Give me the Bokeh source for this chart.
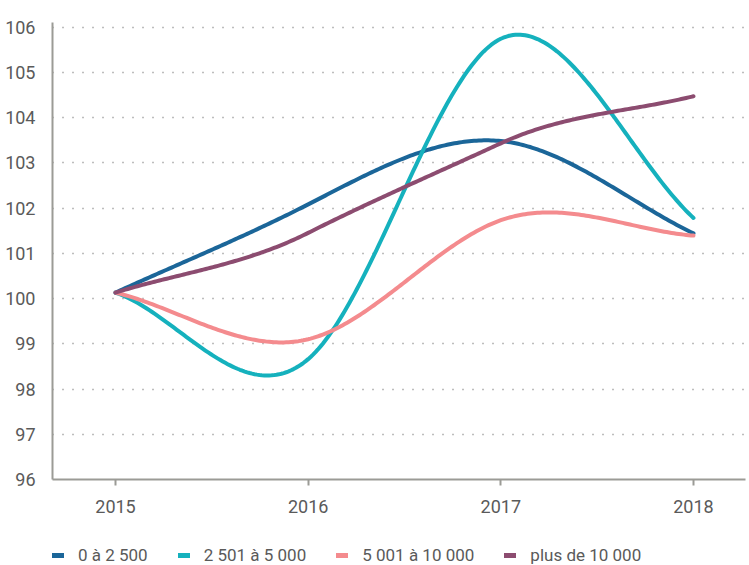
import numpy as np
from bokeh.plotting import figure
from bokeh.layouts import column
from bokeh.models import Range1d, FixedTicker, Legend, LegendItem
from bokeh.embed import file_html
from bokeh.resources import INLINE

years = [2015, 2016, 2017, 2018]
series_names = ["0 à 2 500", "2 501 à 5 000", "5 001 à 10 000", "plus de 10 000"]
s_0_2500 = [100.13, 102.08, 103.48, 101.44]
s_2501_5000 = [100.13, 98.66, 105.74, 101.78]
s_5001_10000 = [100.13, 99.10, 101.73, 101.39]
s_plus_10000 = [100.13, 101.45, 103.43, 104.47]
y_ticks = [96, 97, 98, 99, 100, 101, 102, 103, 104, 105, 106]

colors = ["#1b6699", "#15b1bd", "#f48b8e", "#8c4c70"]
FONT = "Roboto"


def smooth(xs, ys, n=80, tension=1.3, end=1.0):
    """Cardinal-type Hermite smoothing through the given points."""
    xs = np.asarray(xs, float)
    ys = np.asarray(ys, float)
    k = len(xs)
    m = np.zeros(k)
    for i in range(1, k - 1):
        m[i] = tension * (ys[i + 1] - ys[i - 1]) / (xs[i + 1] - xs[i - 1])
    m[0] = end * (ys[1] - ys[0]) / (xs[1] - xs[0])
    m[-1] = end * (ys[-1] - ys[-2]) / (xs[-1] - xs[-2])
    out_x, out_y = [], []
    for i in range(k - 1):
        h = xs[i + 1] - xs[i]
        t = np.linspace(0, 1, n)
        if i > 0:
            t = t[1:]
        h00 = 2 * t**3 - 3 * t**2 + 1
        h10 = t**3 - 2 * t**2 + t
        h01 = -2 * t**3 + 3 * t**2
        h11 = t**3 - t**2
        out_x.extend(xs[i] + t * h)
        out_y.extend(h00 * ys[i] + h10 * h * m[i] + h01 * ys[i + 1] + h11 * h * m[i + 1])
    return out_x, out_y


p = figure(width=749, height=529, output_backend="svg", toolbar_location=None,
           x_range=Range1d(2014.673, 2018.27), y_range=Range1d(96, 106.1),
           min_border_left=52, min_border_top=22, min_border_right=4,
           min_border_bottom=50)
p.outline_line_color = None
p.background_fill_color = "white"
p.border_fill_color = "white"

for name, vals, col in zip(series_names, [s_0_2500, s_2501_5000, s_5001_10000, s_plus_10000], colors):
    sx, sy = smooth(years, vals)
    p.line(sx, sy, line_color=col, line_width=4, line_cap="round", line_join="round")

axis_col = "#9b9b96"
p.yaxis.ticker = FixedTicker(ticks=y_ticks)
p.yaxis.axis_line_color = axis_col
p.yaxis.axis_line_width = 2
p.yaxis.major_tick_line_color = None
p.yaxis.minor_tick_line_color = None
p.yaxis.major_label_standoff = 11
p.yaxis.major_label_text_font = FONT
p.yaxis.major_label_text_font_size = "18px"
p.yaxis.major_label_text_color = "#5a5a5a"

p.xaxis.ticker = FixedTicker(ticks=years)
p.xaxis.axis_line_color = axis_col
p.xaxis.axis_line_width = 2
p.xaxis.major_tick_line_color = axis_col
p.xaxis.major_tick_line_width = 2
p.xaxis.major_tick_in = 0
p.xaxis.major_tick_out = 6
p.xaxis.minor_tick_line_color = None
p.xaxis.major_label_standoff = 14
p.xaxis.major_label_text_font = FONT
p.xaxis.major_label_text_font_size = "18px"
p.xaxis.major_label_text_color = "#5a5a5a"

p.xgrid.grid_line_color = None
p.ygrid.ticker = FixedTicker(ticks=y_ticks)
p.ygrid.grid_line_color = "#7a7a7a"
p.ygrid.grid_line_width = 1.5
p.ygrid.grid_line_dash = "1 9"

# legend strip below the chart (its frame is aligned with the chart's frame)
lg = figure(width=749, height=36, output_backend="svg", toolbar_location=None,
            x_range=Range1d(0, 1), y_range=Range1d(0, 1),
            x_axis_type=None, y_axis_type=None,
            min_border_left=0, min_border_right=0, min_border_top=0, min_border_bottom=0)
lg.outline_line_color = None
lg.xgrid.visible = False
lg.ygrid.visible = False
items = []
for name, col in zip(series_names, colors):
    # legend-only renderers, kept outside the visible range of this strip
    r = lg.line([5, 6], [5, 6], line_color=col, line_width=5, line_cap="round")
    items.append(LegendItem(label=name, renderers=[r]))
legend = Legend(items=items, orientation="horizontal", location=(0, 0),
                glyph_width=12, glyph_height=16, label_standoff=14, spacing=30,
                padding=0, margin=0,
                label_text_font=FONT, label_text_font_size="17px",
                label_text_color="#5a5a5a",
                border_line_color=None, background_fill_alpha=0)
lg.add_layout(legend)

layout = column(p, lg, spacing=0)
open("out.html", "w").write(file_html(layout, INLINE))
